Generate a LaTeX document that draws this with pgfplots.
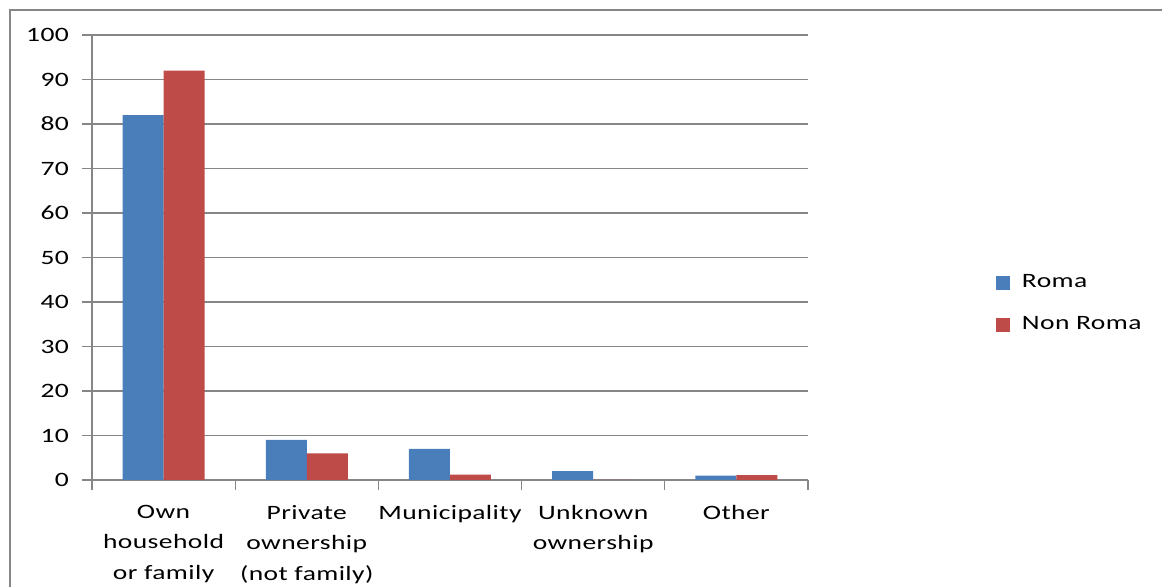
\documentclass[border=0pt]{standalone}
\usepackage{pgfplots}
\pgfplotsset{compat=1.18}
\usepackage{fontspec}
\setmainfont{Carlito}[FakeStretch=1.35, LetterSpace=2]
\definecolor{romablue}{HTML}{4A7EBB}
\definecolor{nonred}{HTML}{BE4B48}
\definecolor{gridgray}{HTML}{868686}
\begin{document}
\begin{tikzpicture}[x=1pt,y=1pt]
\useasboundingbox (0,0) rectangle (581,293.5);
\draw[gridgray, line width=0.6pt] (5,-5) -- (5,288.5) -- (590,288.5);
\begin{axis}[
  at={(46pt,53.5pt)}, anchor=south west,
  scale only axis, width=358pt, height=222.5pt,
  xmin=-0.5, xmax=4.5, ymin=0, ymax=100,
  ybar=0pt, bar width=20.5pt,
  axis x line*=bottom, axis y line*=left,
  axis line style={gridgray, line width=0.6pt},
  ytick={0,10,...,100}, ymajorgrids,
  major grid style={gridgray, line width=0.6pt},
  xtick={0,...,4},
  xticklabels={Own\\household\\or family, Private\\ownership\\(not family), Municipality, Unknown\\ownership, Other},
  xticklabel style={align=center, anchor=north, yshift=-4pt},
  major x tick style={draw=none},
  minor xtick={-0.5,0.5,...,4.5},
  minor x tick style={gridgray, line width=0.6pt},
  major y tick style={gridgray, line width=0.6pt},
  tick align=outside, tick pos=left,
  major tick length=5pt, minor tick length=5pt,
  /pgf/number format/assume math mode=true,
  tick label style={font=\fontsize{10.2}{15.25}\selectfont, text=black},
  yticklabel style={xshift=-3pt},
  legend style={at={(1.262,0.3965)}, anchor=west, draw=none, fill=none,
    font=\fontsize{10.2}{12.6}\selectfont, row sep=9pt, inner sep=0pt,
    /tikz/every odd column/.style={column sep=4pt}},
  legend cell align=left,
  legend image code/.code={\fill[#1] (0pt,-3.5pt) rectangle (7pt,3.5pt);},
]
\addplot[fill=romablue, draw=none] coordinates {(0,82) (1,9) (2,7) (3,2) (4,1)};
\addplot[fill=nonred, draw=none] coordinates {(0,92) (1,6) (2,1.2) (3,0) (4,1.1)};
\legend{Roma, Non Roma}
\end{axis}
\end{tikzpicture}
\end{document}
